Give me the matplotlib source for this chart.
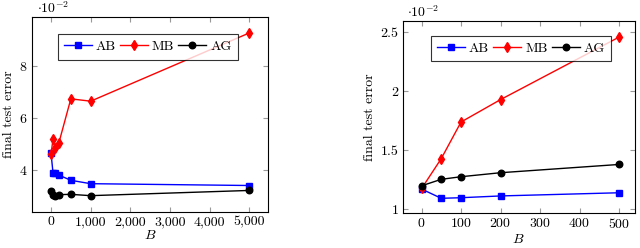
import matplotlib
matplotlib.use("Agg")
import matplotlib.pyplot as plt
from matplotlib.ticker import FuncFormatter

plt.rcParams["font.family"] = "serif"
plt.rcParams["font.serif"] = ["cmr10", "DejaVu Serif"]
plt.rcParams["mathtext.fontset"] = "cm"
plt.rcParams["axes.formatter.use_mathtext"] = True

# left panel (error in units of 1e-2)
B_left = [1, 50, 100, 200, 500, 1000, 5000]
ab_left = [4.62, 3.88, 3.88, 3.79, 3.59, 3.46, 3.39]
mb_left = [4.60, 5.17, 4.82, 5.04, 6.72, 6.63, 9.25]
ag_left = [3.17, 3.04, 3.00, 3.04, 3.05, 3.00, 3.20]

# right panel
B_right = [1, 50, 100, 200, 500]
ab_right = [1.17, 1.093, 1.098, 1.113, 1.14]
mb_right = [1.18, 1.43, 1.74, 1.93, 2.46]
ag_right = [1.20, 1.254, 1.276, 1.31, 1.38]

fig = plt.figure(figsize=(6.4, 2.48), dpi=100)
ax1 = fig.add_axes([0.050, 0.146, 0.369, 0.787])
ax2 = fig.add_axes([0.629, 0.140, 0.363, 0.777])


def draw(ax, B, ab, mb, ag, anchor):
    ax.plot(B, ab, color="blue", lw=1, marker="s", ms=5, label="AB")
    ax.plot(B, mb, color="red", lw=1, marker="d", ms=5, label="MB")
    ax.plot(B, ag, color="black", lw=1, marker="o", ms=4.7, label="AG")
    ax.tick_params(direction="in", length=3.5, color="0.6", labelsize=10,
                   top=True, right=True, pad=3)
    for s in ax.spines.values():
        s.set_linewidth(0.8)
    ax.set_xlabel("$B$", fontsize=10, labelpad=1)
    ax.set_ylabel("final test error", fontsize=10, labelpad=3)
    leg = ax.legend(ncol=3, loc="upper center", fontsize=10, frameon=True,
                    fancybox=False, edgecolor="black", handlelength=2.0,
                    columnspacing=0.3, handletextpad=0.3,
                    borderpad=0.45, bbox_to_anchor=anchor)
    leg.get_frame().set_linewidth(0.8)
    ax.text(0.02, 1.045, r"$\cdot 10^{-2}$", transform=ax.transAxes,
            fontsize=10, va="center")


draw(ax1, B_left, ab_left, mb_left, ag_left, (0.49, 0.945))
ax1.set_xlim(-480, 5480)
ax1.set_ylim(2.38, 9.88)
ax1.set_xticks([0, 1000, 2000, 3000, 4000, 5000])
ax1.set_yticks([4, 6, 8])
ax1.xaxis.set_major_formatter(FuncFormatter(lambda v, p: f"{int(v):,}"))

draw(ax2, B_right, ab_right, mb_right, ag_right, (0.51, 0.955))
ax2.set_xlim(-48, 540)
ax2.set_ylim(0.966, 2.60)
ax2.set_xticks([0, 100, 200, 300, 400, 500])
ax2.set_yticks([1, 1.5, 2, 2.5])
ax2.yaxis.set_major_formatter(FuncFormatter(lambda v, p: f"{v:g}"))

fig.savefig("out.png", dpi=100)
